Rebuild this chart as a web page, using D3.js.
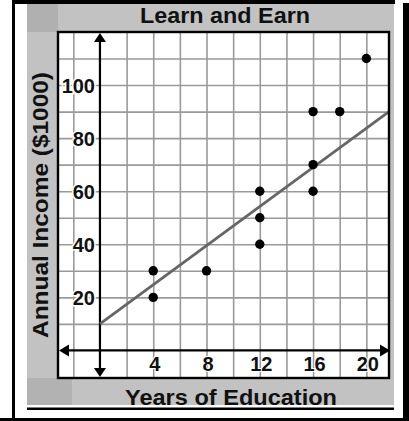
<!DOCTYPE html>
<html>
<head>
<meta charset="utf-8">
<script src="https://cdn.jsdelivr.net/npm/d3@7"></script>
<style>
  body { margin: 0; background: #fff; }
  text { font-family: "Liberation Sans", Arial, sans-serif; font-weight: bold; fill: #111; }
</style>
</head>
<body>
<div id="viz"></div>
<script>
const width = 409, height = 421;

// data
const years  = [4, 4, 8, 12, 12, 12, 16, 16, 16, 18, 20];
const income = [20, 30, 30, 40, 50, 60, 60, 70, 90, 90, 110];
const trendX = [0, 21.7];
const trendY = [10, 90];
const xTicks = [4, 8, 12, 16, 20];
const yTicks = [20, 40, 60, 80, 100];
const xGrid = [-2, 2, 4, 6, 8, 10, 12, 14, 16, 18, 20];
const yGrid = [10, 20, 30, 40, 50, 60, 70, 80, 90, 100, 110];

const box = {left: 58, right: 389, top: 32, bottom: 378};

const svg = d3.select("#viz").append("svg").attr("width", width).attr("height", height);

const x = d3.scaleLinear().domain([-3.15, 21.7]).range([box.left, box.right]);
const y = d3.scaleLinear().domain([-10.4, 120]).range([box.bottom, box.top]);

// frame
svg.append("rect").attr("x", 27).attr("y", 4).attr("width", 367).attr("height", 401).attr("fill", "#c2c2c2");
svg.append("rect").attr("x", 27).attr("y", 4).attr("width", 31).attr("height", 28).attr("fill", "#b0b0b0");
svg.append("rect").attr("x", 27).attr("y", box.bottom).attr("width", 45).attr("height", 27).attr("fill", "#b2b2b2");
svg.append("rect").attr("x", 12).attr("y", 0).attr("width", 383).attr("height", 4).attr("fill", "#000");
svg.append("rect").attr("x", 12).attr("y", 0).attr("width", 3).attr("height", 418).attr("fill", "#000");
svg.append("rect").attr("x", 403).attr("y", 3).attr("width", 6).attr("height", 418).attr("fill", "#000");
svg.append("rect").attr("x", 27).attr("y", 407.5).attr("width", 367).attr("height", 2.5).attr("fill", "#000");
svg.append("rect").attr("x", 0).attr("y", 418).attr("width", width).attr("height", 3).attr("fill", "#000");

// plot area
svg.append("rect")
  .attr("x", box.left).attr("y", box.top)
  .attr("width", box.right - box.left).attr("height", box.bottom - box.top)
  .attr("fill", "#fff");

// grid
svg.append("g")
  .attr("transform", `translate(0,${box.bottom})`)
  .call(d3.axisBottom(x).tickValues(xGrid).tickSize(-(box.bottom - box.top)).tickFormat(""))
  .call(g => g.select(".domain").remove())
  .call(g => g.selectAll("line").attr("stroke", "#9a9a9a").attr("stroke-width", 1.6));

svg.append("g")
  .attr("transform", `translate(${box.left},0)`)
  .call(d3.axisLeft(y).tickValues(yGrid).tickSize(-(box.right - box.left)).tickFormat(""))
  .call(g => g.select(".domain").remove())
  .call(g => g.selectAll("line").attr("stroke", "#9a9a9a").attr("stroke-width", 1.6));

// tick labels
svg.append("g")
  .attr("transform", `translate(95,0)`)
  .call(d3.axisLeft(y).tickValues(yTicks).tickSize(0).tickPadding(0))
  .call(g => g.select(".domain").remove())
  .call(g => g.selectAll("text")
    .attr("font-size", 20).attr("dy", "0.36em")
    .attr("stroke", "#fff").attr("stroke-width", 3).attr("paint-order", "stroke"));

svg.append("g")
  .attr("transform", `translate(0,${y(0) + 21})`)
  .call(d3.axisBottom(x).tickValues(xTicks).tickSize(0).tickPadding(0))
  .call(g => g.select(".domain").remove())
  .call(g => g.selectAll("text")
    .attr("font-size", 20).attr("dy", 0).attr("dx", 1)
    .attr("stroke", "#fff").attr("stroke-width", 2).attr("paint-order", "stroke"));

// axes with arrows
const x0 = x(0), y0 = y(0);
svg.append("line").attr("x1", x0).attr("x2", x0).attr("y1", box.top + 8).attr("y2", box.bottom - 8)
  .attr("stroke", "#000").attr("stroke-width", 2.2);
svg.append("line").attr("x1", box.left + 8).attr("x2", box.right - 6).attr("y1", y0).attr("y2", y0)
  .attr("stroke", "#000").attr("stroke-width", 2.2);
const arrows = [
  [[x0, box.top + 1], [x0 - 6, box.top + 10], [x0 + 6, box.top + 10]],
  [[x0, box.bottom - 1], [x0 - 6, box.bottom - 10], [x0 + 6, box.bottom - 10]],
  [[box.left + 1, y0], [box.left + 11, y0 - 6], [box.left + 11, y0 + 6]],
  [[box.right + 1, y0], [box.right - 9, y0 - 6], [box.right - 9, y0 + 6]]
];
svg.selectAll("path.arrow").data(arrows).enter().append("path")
  .attr("class", "arrow")
  .attr("d", d => "M" + d.join("L") + "Z")
  .attr("fill", "#000");

// trend line
svg.append("path")
  .datum(trendX.map((d, i) => [d, trendY[i]]))
  .attr("d", d3.line().x(d => x(d[0])).y(d => y(d[1])))
  .attr("stroke", "#666").attr("stroke-width", 2.8).attr("fill", "none");

// points
svg.selectAll("circle").data(years).enter().append("circle")
  .attr("cx", d => x(d))
  .attr("cy", (d, i) => y(income[i]))
  .attr("r", 4.7)
  .attr("fill", "#000");

// plot border
svg.append("rect")
  .attr("x", box.left).attr("y", box.top)
  .attr("width", box.right - box.left).attr("height", box.bottom - box.top)
  .attr("fill", "none").attr("stroke", "#000").attr("stroke-width", 2.4);

// titles
svg.append("text").attr("x", 225).attr("y", 23).attr("text-anchor", "middle")
  .attr("font-size", 22).attr("textLength", 170).attr("lengthAdjust", "spacingAndGlyphs")
  .text("Learn and Earn");
svg.append("text").attr("x", 231).attr("y", 405).attr("text-anchor", "middle")
  .attr("font-size", 22).attr("textLength", 212).attr("lengthAdjust", "spacingAndGlyphs")
  .text("Years of Education");
svg.append("text").attr("transform", "translate(48,205) rotate(-90)").attr("text-anchor", "middle")
  .attr("font-size", 22).attr("textLength", 266).attr("lengthAdjust", "spacingAndGlyphs")
  .text("Annual Income ($1000)");
</script>
</body>
</html>
